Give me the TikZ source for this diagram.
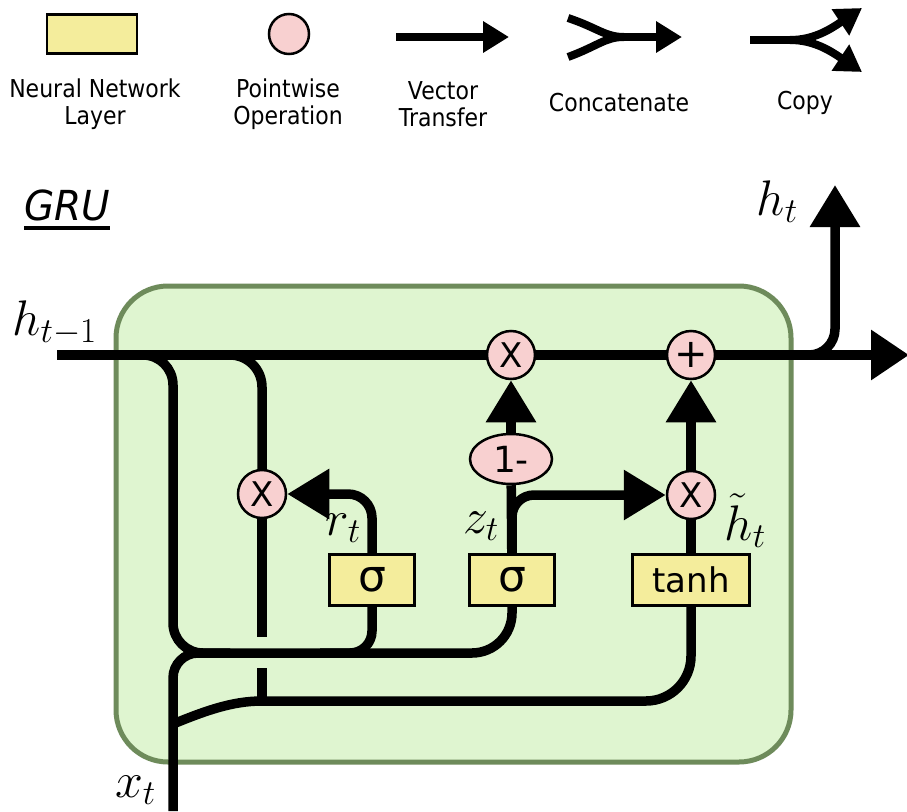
\RequirePackage{fix-cm}
\documentclass[tikz,border=0pt]{standalone}
\usepackage{fontspec}
\setmainfont{DejaVu Sans}
\usetikzlibrary{arrows.meta,shapes.geometric}
\definecolor{nnyellow}{HTML}{F4ED9C}
\definecolor{pwpink}{HTML}{F8D0D0}
\definecolor{cellgreen}{HTML}{DFF5D0}
\definecolor{cellborder}{HTML}{6E8B5B}
\pgfdeclarelayer{bg}
\pgfdeclarelayer{wires}
\pgfsetlayers{bg,wires,main}
\begin{document}
\begin{tikzpicture}[x=1pt,y=-1pt,
  wire/.style={line width=9.5pt,black},
  vec/.style={wire,-{Triangle[length=42pt,width=48pt]}},
  lgwire/.style={line width=8pt,black},
  lgvec/.style={lgwire,-{Triangle[length=26pt,width=30pt]}},
  nnlayer/.style={draw=black,line width=2.5pt,fill=nnyellow,inner sep=0pt},
  pw/.style={circle,draw=black,line width=2.5pt,fill=pwpink,inner sep=0pt,minimum size=48pt,font=\fontsize{34}{36}\selectfont},
  lab/.style={inner sep=0pt,font=\fontsize{50}{54}\selectfont},
  lg/.style={inner sep=0pt,align=center,yscale=1.12,font=\fontsize{22}{24}\selectfont},
  cellbox/.style={draw=cellborder,fill=cellgreen,line width=5pt,rounded corners=52pt,inner sep=0pt}]
\useasboundingbox (0,0) rectangle (907,811);

% ---------- legend ----------
\node[nnlayer,minimum width=90pt,minimum height=39pt] (lgnn) at (92,34) {};
\node[pw,minimum size=40pt] (lgpw) at (289,34) {};
\coordinate (lgvA) at (396,37);
\coordinate (lgvB) at (509,37);
\draw[lgvec] (lgvA) -- (lgvB);
\coordinate (lgcA) at (568,18);
\coordinate (lgcB) at (568,57);
\coordinate (lgcM) at (624,37);
\coordinate (lgcE) at (682,37);
\draw[lgwire] (lgcA) .. controls (598,28) and (605,37) .. (lgcM);
\draw[lgwire] (lgcB) .. controls (598,46) and (605,37) .. (lgcM);
\draw[lgvec] (lgcM) -- (lgcE);
\coordinate (lgkA) at (750,40);
\coordinate (lgkM) at (790,40);
\coordinate (lgkU) at (862,8);
\coordinate (lgkD) at (862,72);
\draw[lgwire] (lgkA) -- (lgkM);
\draw[lgvec] (lgkM) .. controls (815,40) and (832,28) .. (lgkU);
\draw[lgvec] (lgkM) .. controls (815,40) and (832,52) .. (lgkD);
\node[lg] (t1) at (95,104.5) {Neural Network\\Layer};
\node[lg] (t2) at (288,104.5) {Pointwise\\Operation};
\node[lg] (t3) at (443,104.5) {Vector\\Transfer};
\node[lg] (t4) at (619,103) {Concatenate};
\node[lg] (t5) at (805,103) {Copy};

% ---------- title ----------
\node[inner sep=0pt,anchor=base west,yscale=1.06,font=\fontsize{39}{40}\selectfont\itshape] (gru) at (24,220) {GRU};
\draw[line width=3.5pt] ([yshift=-8pt]gru.base west) -- ([yshift=-8pt]gru.base east);

% ---------- cell ----------
\begin{pgfonlayer}{bg}
\node[cellbox,minimum width=675pt,minimum height=476pt] (cell) at (453.5,524) {};
\end{pgfonlayer}

\node[pw] (mulA) at (511,355) {X};
\node[pw,font=\fontsize{40}{42}\selectfont] (plus) at (691,355) {+};
\node[pw] (mulR) at (262,494) {X};
\node[pw] (mulH) at (691,495) {X};
\node[ellipse,draw=black,line width=2.5pt,fill=pwpink,inner sep=0pt,minimum width=82pt,minimum height=50pt,font=\fontsize{36}{38}\selectfont] (onem) at (511,459) {1-};
\node[nnlayer,minimum width=85pt,minimum height=51pt,font=\fontsize{44}{46}\selectfont] (sigR) at (372,580) {σ};
\node[nnlayer,minimum width=85pt,minimum height=51pt,font=\fontsize{44}{46}\selectfont] (sigZ) at (512,580) {σ};
\node[nnlayer,minimum width=117pt,minimum height=51pt,font=\fontsize{34}{36}\selectfont] (tanh) at (691,580) {tanh};

\coordinate (hin) at (57,355);
\coordinate (hout) at (909,355);
\coordinate (htop) at (835,185);
\coordinate (xin) at (173,811);
\coordinate (b1) at (140,355);
\coordinate (b2) at (226,355);
\coordinate (j1) at (230,653);
\coordinate (gapA) at (262,637);
\coordinate (gapB) at (262,668);
\coordinate (j2) at (262,701);
\coordinate (xb) at (173,724);
\coordinate (hb) at (790,355);

\begin{pgfonlayer}{wires}
\draw[wire,-{Triangle[length=38pt,width=48pt]}] (hin) -- (hout);
\draw[vec,rounded corners=26pt] (hb) -| (htop);
\draw[vec] (onem) -- (mulA);
\draw[wire] (sigZ) -- (onem);
\draw[vec,rounded corners=22pt] (sigZ.north) |- (mulH);
\draw[wire] (tanh) -- (mulH);
\draw[vec] (mulH) -- (plus);
\draw[vec,rounded corners=24pt] (sigR.north) |- (mulR);
\draw[wire,rounded corners=30pt] (b1) -| (173,653) -- (j1);
\draw[wire,rounded corners=25pt] (xin) |- (j1);
\draw[wire,rounded corners=40pt] (sigZ.south) |- (j1);
\draw[wire,rounded corners=22pt] (sigR.south) |- (320,653);
\draw[wire,rounded corners=32pt] (b2) -| (mulR.north);
\draw[wire] (mulR.south) -- (gapA);
\draw[wire] (gapB) -- (j2);
\draw[wire,rounded corners=45pt] (tanh.south) |- (j2);
\draw[wire] (xb) .. controls (205,711) and (232,701) .. (j2);
\end{pgfonlayer}

% ---------- labels ----------
\node[lab,anchor=base east] (lhin) at (97,335) {$h_{t-1}$};
\node[lab,anchor=base east] (lhout) at (798,215) {$h_t$};
\node[lab,anchor=base east] (lx) at (156,797) {$x_t$};
\node[lab,anchor=base east] (lr) at (361,535) {$r_t$};
\node[lab,anchor=base east] (lz) at (499,533) {$z_t$};
\node[lab,anchor=base east] (lht) at (766,540) {$\tilde{h}_t$};
\end{tikzpicture}
\end{document}
